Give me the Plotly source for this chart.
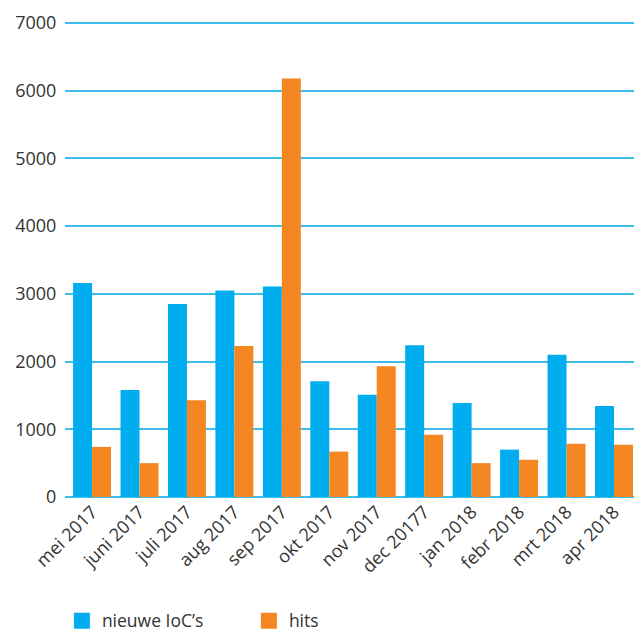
import plotly.graph_objects as go

months = ["mei 2017", "juni 2017", "juli 2017", "aug 2017", "sep 2017", "okt 2017",
          "nov 2017", "dec 20177", "jan 2018", "febr 2018", "mrt 2018", "apr 2018"]
nieuwe_iocs = [3160, 1580, 2850, 3050, 3110, 1710, 1510, 2240, 1390, 700, 2100, 1345]
hits = [740, 500, 1430, 2230, 6180, 670, 1930, 920, 500, 550, 785, 770]
y_ticks = [0, 1000, 2000, 3000, 4000, 5000, 6000, 7000]
series_names = ["nieuwe IoC’s", "hits"]

BLUE = "#00AEEF"
ORANGE = "#F58722"
GRID = "#3DBDEC"
FONT = "Open Sans"
TXT = "#333333"

fig = go.Figure()
fig.add_trace(go.Bar(x=months, y=nieuwe_iocs, name=series_names[0], showlegend=False,
                     marker=dict(color=BLUE, line=dict(width=0))))
fig.add_trace(go.Bar(x=months, y=hits, name=series_names[1], showlegend=False,
                     marker=dict(color=ORANGE, line=dict(width=0))))
# legend entries with larger square swatches
for nm, col in zip(series_names, [BLUE, ORANGE]):
    fig.add_trace(go.Scatter(x=[None], y=[None], mode="markers", name=nm,
                             marker=dict(symbol="square", size=16, color=col,
                                         line=dict(width=0))))

fig.update_layout(
    width=634, height=624,
    margin=dict(l=57, r=5, t=14, b=135),
    paper_bgcolor="white", plot_bgcolor="white",
    barmode="group", bargap=0.2, bargroupgap=0,
    font=dict(family=FONT, color=TXT, size=16),
    legend=dict(orientation="h", xref="container", yref="container",
                x=0.085, y=0.018, xanchor="left", yanchor="middle",
                font=dict(size=17.5, color=TXT), itemwidth=30,
                entrywidthmode="pixels", entrywidth=142,
                traceorder="normal"),
    xaxis=dict(range=[-0.57, 11.485], tickangle=-45, tickfont=dict(size=18, color=TXT),
               showgrid=False, showline=False, ticks="", automargin=False),
    yaxis=dict(range=[0, 7015], tickvals=y_ticks,
               tickfont=dict(size=18, color=TXT), automargin=False,
               showgrid=True, gridcolor=GRID, gridwidth=2,
               zeroline=True, zerolinecolor=GRID, zerolinewidth=2,
               showline=False, ticks="outside", ticklen=4, tickcolor="white"),
)

fig.write_html("out.html")
